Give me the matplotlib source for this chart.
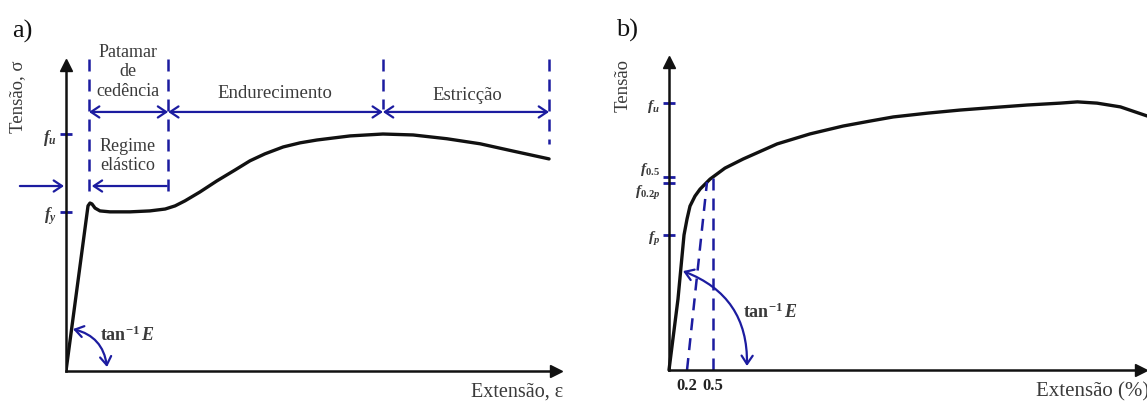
import matplotlib
matplotlib.use("Agg")
import matplotlib.pyplot as plt

plt.rcParams['font.family'] = ['Liberation Serif', 'DejaVu Serif']
plt.rcParams['mathtext.fontset'] = 'custom'
plt.rcParams['mathtext.it'] = 'Liberation Serif:italic:bold'
plt.rcParams['mathtext.rm'] = 'Liberation Serif:bold'
plt.rcParams['mathtext.bf'] = 'Liberation Serif:bold'

# ---------------- data: panel a (carbon steel) ----------------
strain_a = [0, 4.44, 4.84, 5.24, 5.85, 6.85, 8.87, 12.9, 16.9, 20.0, 22.0, 24.0,
            27.0, 30.4, 34.1, 37.1, 40.1, 43.8, 47.2, 50.6, 57.3, 63.9, 70.0,
            76.8, 83.5, 90.1, 97.4]
stress_a = [0, 52.4, 53.3, 53.0, 51.7, 50.8, 50.5, 50.5, 50.8, 51.4, 52.4, 54.0,
            56.8, 60.3, 63.8, 66.7, 68.9, 71.1, 72.4, 73.3, 74.6, 75.2, 74.9,
            73.7, 72.1, 69.8, 67.3]
ytick_vals_a = [50.5, 75.2]
ytick_labels_a = [r'$f_y$', r'$f_u$']
zone_bounds_a = [4.64, 20.6, 63.9, 97.4]
zone_tops_a = [99.0, 99.0, 99.0, 99.0]
zone_bottoms_a = [56.8, 56.8, 83.2, 72.1]
zone_arrow_y_a = 82.2
lower_arrow_y_a = 58.7
zone_labels_a = ['Patamar\nde\ncedência', 'Endurecimento', 'Estricção']

# ---------------- data: panel b (stainless steel) ----------------
strain_b = [0, 1.88, 3.14, 3.77, 4.39, 5.44, 6.49, 8.58, 11.7, 15.5, 22.6, 29.5,
            36.4, 42.1, 46.9, 54.0, 60.9, 67.8, 74.9, 81.8, 85.4, 89.5, 94.4, 100.0]
stress_b = [0, 22.6, 43.0, 48.1, 52.2, 55.4, 57.6, 60.8, 64.3, 67.2, 72.0, 75.2,
            77.7, 79.3, 80.6, 81.8, 82.8, 83.6, 84.4, 85.0, 85.4, 85.0, 83.8, 80.9]
ytick_vals_b = [43.0, 59.6, 61.5, 85.0]
ytick_labels_b = [r'$f_p$', r'$f_{\mathit{0.2p}}$', r'$f_{\mathit{0.5}}$', r'$f_u$']
xtick_vals_b = [3.77, 9.2]
xtick_labels_b = ['0.2', '0.5']
offset_line_x = [3.77, 7.95]
offset_line_y = [0, 59.9]
total_line_x = [9.2, 9.2]
total_line_y = [0, 61.5]

BLUE = '#1c1ca0'
TXT = '#3a3a3a'
W, H = 1147, 402

fig = plt.figure(figsize=(W / 100, H / 100), dpi=100)


def fpos(x, y):
    return x / W, 1 - y / H


def setup(ax):
    ax.set_facecolor('none')
    for s in ('top', 'right'):
        ax.spines[s].set_visible(False)
    for s in ('left', 'bottom'):
        ax.spines[s].set_linewidth(1.8)
        ax.spines[s].set_color('#111111')
    ax.plot(1, 0, marker='>', color='#111111', ms=9, transform=ax.get_yaxis_transform(), clip_on=False)
    ax.plot(0, 1, marker='^', color='#111111', ms=9, transform=ax.get_xaxis_transform(), clip_on=False)
    ax.tick_params(axis='y', direction='inout', length=9, width=2, color=BLUE,
                   labelcolor=TXT, pad=2, labelsize=12)


dash = (0, (4.8, 3.2))
arr2 = '<->,head_length=0.6,head_width=0.4'
arr1 = '->,head_length=0.6,head_width=0.4'

# ---------------- panel a ----------------
ax = fig.add_axes([66 / W, (H - 372) / H, (556 - 66) / W, (372 - 66) / H])
setup(ax)
ax.set_xlim(0, 98.8)
ax.set_ylim(0, 97.1)
ax.set_xticks([])
ax.set_yticks(ytick_vals_a)
ax.set_yticklabels(ytick_labels_a)
ax.plot(strain_a, stress_a, color='#111111', lw=2.4, solid_joinstyle='round', solid_capstyle='round')

for x, t, b in zip(zone_bounds_a, zone_tops_a, zone_bottoms_a):
    ax.plot([x, x], [t, b], color=BLUE, lw=1.8, linestyle=dash, clip_on=False)
for x1, x2 in zip(zone_bounds_a[:-1], zone_bounds_a[1:]):
    ax.annotate('', xy=(x2, zone_arrow_y_a), xytext=(x1, zone_arrow_y_a),
                arrowprops=dict(arrowstyle=arr2, color=BLUE, lw=1.6, shrinkA=0, shrinkB=0),
                annotation_clip=False)
ax.annotate('', xy=(-0.4, lower_arrow_y_a), xytext=(-9.3, lower_arrow_y_a),
            arrowprops=dict(arrowstyle=arr1, color=BLUE, lw=1.6, shrinkA=0, shrinkB=0),
            annotation_clip=False)
ax.annotate('', xy=(5.2, lower_arrow_y_a), xytext=(20.3, lower_arrow_y_a),
            arrowprops=dict(arrowstyle=arr1, color=BLUE, lw=1.6, shrinkA=0, shrinkB=0),
            annotation_clip=False)
ax.annotate('', xy=(8.27, 1.27), xytext=(1.41, 13.3),
            arrowprops=dict(arrowstyle=arr2, color=BLUE, lw=1.6, shrinkA=0, shrinkB=0,
                            connectionstyle='arc3,rad=-0.34'),
            annotation_clip=False)

# ---------------- panel b ----------------
bx = fig.add_axes([669 / W, (H - 371) / H, (1141 - 669) / W, (371 - 63) / H])
setup(bx)
bx.set_xlim(0, 98.7)
bx.set_ylim(0, 98.1)
bx.set_xticks(xtick_vals_b)
bx.set_xticklabels(xtick_labels_b, fontweight='bold')
bx.tick_params(axis='x', length=0, pad=5, labelsize=12, labelcolor='#222222')
bx.set_yticks(ytick_vals_b)
bx.set_yticklabels(ytick_labels_b)
bx.tick_params(axis='y', labelsize=11)
lbls = bx.get_yticklabels()
lbls[1].set_va('top')
lbls[2].set_va('bottom')
bx.plot(strain_b, stress_b, color='#111111', lw=2.4, solid_joinstyle='round',
        solid_capstyle='round', clip_on=False)
bx.plot(offset_line_x, offset_line_y, color=BLUE, lw=1.8, linestyle=dash)
bx.plot(total_line_x, total_line_y, color=BLUE, lw=1.8, linestyle=dash)
bx.annotate('', xy=(16.3, 1.27), xytext=(2.93, 31.5),
            arrowprops=dict(arrowstyle=arr2, color=BLUE, lw=1.6, shrinkA=0, shrinkB=0,
                            connectionstyle='arc3,rad=-0.35'),
            annotation_clip=False)

# ---------------- texts ----------------
fig.text(*fpos(22, 31), 'a)', fontsize=19, ha='center', va='center', color='#111111')
fig.text(*fpos(627, 30), 'b)', fontsize=19, ha='center', va='center', color='#111111')
fig.text(*fpos(18, 97), 'Tensão, σ', fontsize=13.5, rotation=90, ha='center', va='center', color=TXT)
fig.text(*fpos(623, 85), 'Tensão', fontsize=13.5, rotation=90, ha='center', va='center', color=TXT)
fig.text(*fpos(563, 392), 'Extensão, ε', fontsize=14.5, ha='right', va='center', color=TXT)
fig.text(*fpos(1036, 392), 'Extensão (%)', fontsize=15, ha='left', va='center', color=TXT)
fig.text(*fpos(128, 72), zone_labels_a[0], fontsize=13, ha='center', va='center',
         color=TXT, linespacing=1.2)
fig.text(*fpos(275, 93), zone_labels_a[1], fontsize=13.5, ha='center', va='center', color=TXT)
fig.text(*fpos(467, 95), zone_labels_a[2], fontsize=13.5, ha='center', va='center', color=TXT)
fig.text(*fpos(128, 156), 'Regime\nelástico', fontsize=13, ha='center', va='center',
         color=TXT, linespacing=1.2)
fig.text(*fpos(100, 335), r'$\mathrm{tan}^{\mathrm{-1}}\,E$', fontsize=13, ha='left', va='center', color=TXT)
fig.text(*fpos(743, 312), r'$\mathrm{tan}^{\mathrm{-1}}\,E$', fontsize=13, ha='left', va='center', color=TXT)

fig.savefig('out.png', dpi=100)
